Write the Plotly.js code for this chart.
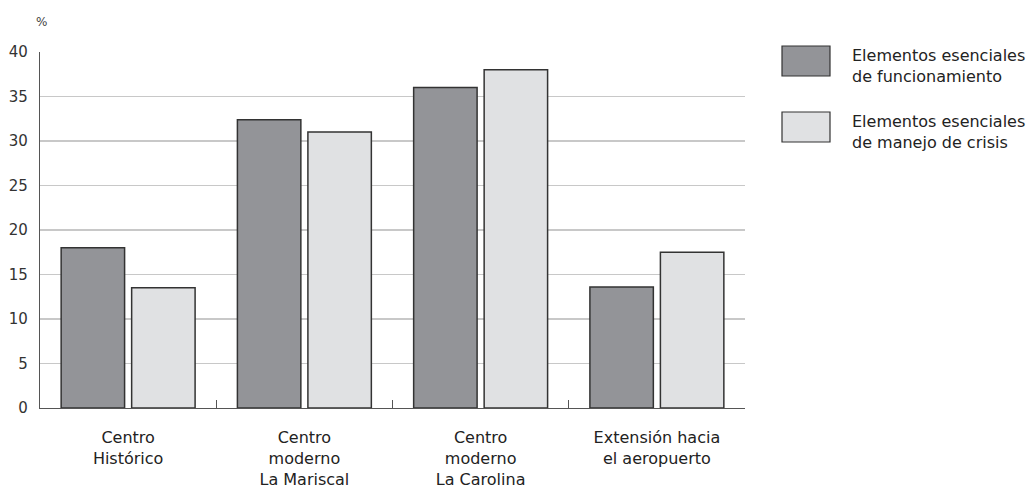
<!DOCTYPE html>
<html><head><meta charset="utf-8">
<script src="https://cdn.plot.ly/plotly-3.0.1.min.js"></script>
<style>html,body{margin:0;padding:0;background:#fff}#c{width:1030px;height:491px}</style>
</head><body><div id="c"></div>
<script>
const categories = ["Centro<br>Histórico", "Centro<br>moderno<br>La Mariscal", "Centro<br>moderno<br>La Carolina", "Extensión hacia<br>el aeropuerto"];
const seriesNames = ["Elementos esenciales<br>de funcionamiento", "Elementos esenciales<br>de manejo de crisis"];
const funcionamiento = [18, 32.4, 36, 13.6];
const manejoCrisis = [13.5, 31, 38, 17.5];
const yTicks = [0, 5, 10, 15, 20, 25, 30, 35, 40];
const colors = ["#939498", "#e0e1e3"];

const font = "DejaVu Sans, Arial, sans-serif";
const traces = [funcionamiento, manejoCrisis].map((v, i) => ({
  type: "bar", x: categories, y: v, name: seriesNames[i],
  marker: {color: colors[i], line: {color: "#333333", width: 1.5}},
  showlegend: false, hoverinfo: "skip"
}));

const shapes = [], annotations = [];
seriesNames.forEach((n, i) => {
  shapes.push({type: "rect", xref: "paper", yref: "paper",
    x0: 742 / 705, x1: 790 / 705, y0: (408 - 46 - i * 66) / 356, y1: (408 - 76 - i * 66) / 356,
    fillcolor: colors[i], line: {color: "#333333", width: 1.2}});
  annotations.push({xref: "paper", yref: "paper", x: 810 / 705, y: (408 - 44 - i * 66) / 356,
    xanchor: "left", yanchor: "top", align: "left", showarrow: false, text: n,
    font: {family: font, size: 16, color: "#222"}});
});
annotations.push({xref: "paper", yref: "paper", x: 1 / 705, y: (408 - 22) / 356, xanchor: "center", yanchor: "middle",
  showarrow: false, text: "%", font: {family: font, size: 12, color: "#444"}});

const layout = {
  width: 1030, height: 491,
  margin: {l: 40, r: 285, t: 52, b: 83},
  paper_bgcolor: "#fff", plot_bgcolor: "#fff",
  barmode: "group", bargap: 0.2, bargroupgap: 0.1,
  font: {family: font, color: "#222"},
  xaxis: {type: "category", tickson: "boundaries", ticks: "inside", ticklen: 8, tickcolor: "#555", tickwidth: 1.2,
    showline: true, linecolor: "#555", linewidth: 1.2, showgrid: false,
    tickfont: {family: font, size: 16, color: "#222"}, ticklabelstandoff: 15, fixedrange: true},
  yaxis: {range: [0, 40], tickvals: yTicks, showgrid: true, gridcolor: "#c8c8c8", gridwidth: 1.5,
    showline: true, linecolor: "#555", linewidth: 1.2, ticks: "", zeroline: false,
    tickfont: {family: font, size: 15, color: "#333"}, ticklabelstandoff: 8, fixedrange: true},
  shapes, annotations, showlegend: false
};
Plotly.newPlot("c", traces, layout, {displayModeBar: false, staticPlot: true});
</script></body></html>
